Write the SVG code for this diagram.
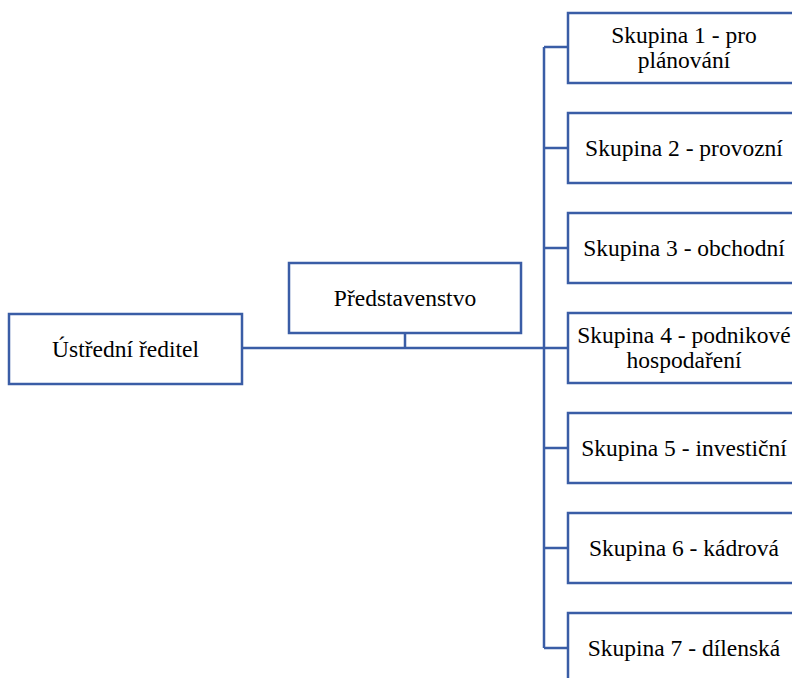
<svg xmlns="http://www.w3.org/2000/svg" width="792" height="678" viewBox="0 0 792 678">
<style>
.box{fill:#fff;stroke:#3A5DA6;stroke-width:2.5}
.ln{fill:none;stroke:#3A5DA6;stroke-width:2.5}
.t{font-family:"Liberation Serif","Times New Roman",serif;font-size:23.5px;fill:#000;text-anchor:middle}
</style>
<rect width="792" height="678" fill="#fff"/>
<g id="connectors">
<path class="ln" d="M242 348H544M405 333V348M544 47V648M544 47H568M544 148H568M544 248H568M544 348H568M544 448H568M544 548H568M544 648H568"/>
</g>
<g id="n0"><rect class="box" x="9" y="314" width="233" height="70"/><text class="t" x="125.5" y="357">Ústřední ředitel</text></g>
<g id="n1"><rect class="box" x="289" y="263" width="232" height="70"/><text class="t" x="405" y="306">Představenstvo</text></g>
<g id="s1"><rect class="box" x="568" y="13" width="232" height="70"/><text class="t" x="684" y="43">Skupina 1 - pro</text><text class="t" x="684" y="68">plánování</text></g>
<g id="s2"><rect class="box" x="568" y="113" width="232" height="70"/><text class="t" x="684" y="156">Skupina 2 - provozní</text></g>
<g id="s3"><rect class="box" x="568" y="213" width="232" height="70"/><text class="t" x="684" y="256">Skupina 3 - obchodní</text></g>
<g id="s4"><rect class="box" x="568" y="313" width="232" height="70"/><text class="t" x="684" y="343">Skupina 4 - podnikové</text><text class="t" x="684" y="368">hospodaření</text></g>
<g id="s5"><rect class="box" x="568" y="413" width="232" height="70"/><text class="t" x="684" y="456">Skupina 5 - investiční</text></g>
<g id="s6"><rect class="box" x="568" y="513" width="232" height="70"/><text class="t" x="684" y="556">Skupina 6 - kádrová</text></g>
<g id="s7"><rect class="box" x="568" y="613" width="232" height="70"/><text class="t" x="684" y="656">Skupina 7 - dílenská</text></g>
</svg>
